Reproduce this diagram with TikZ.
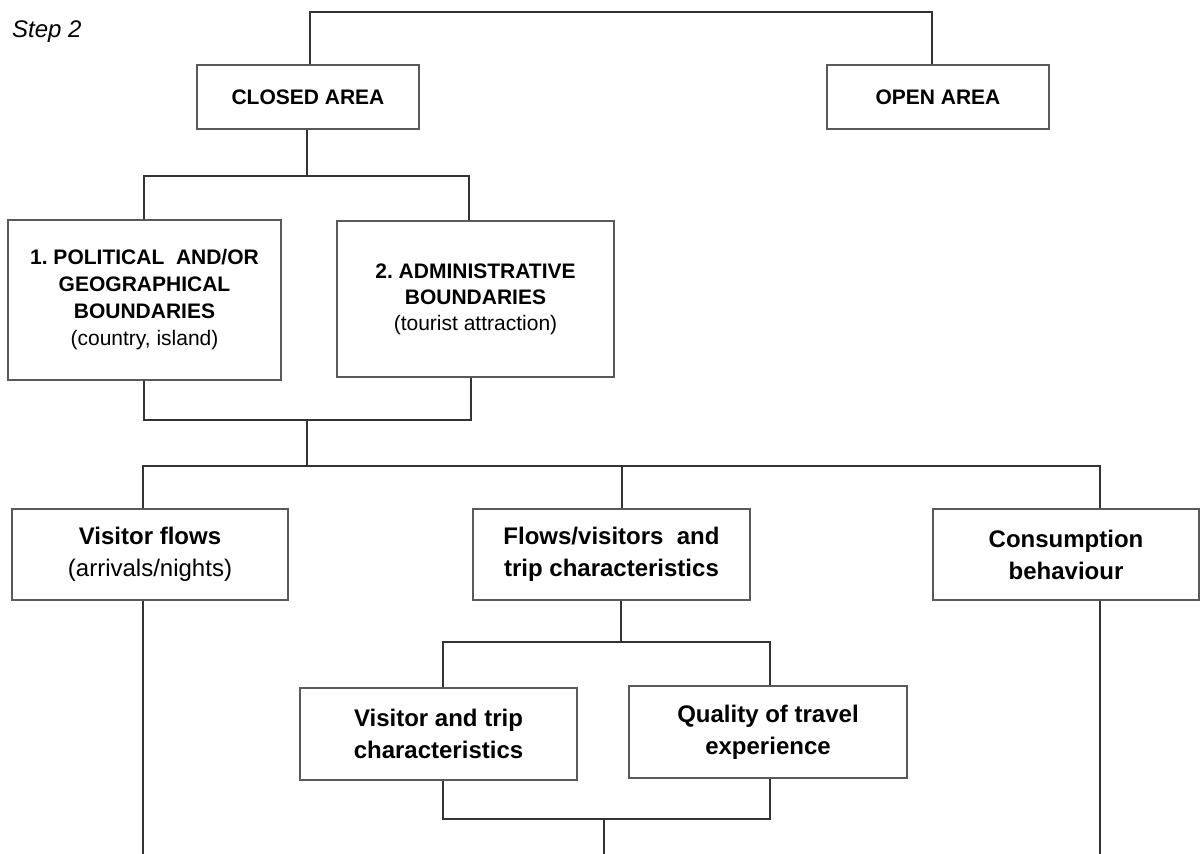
\documentclass[tikz,border=0pt]{standalone}
\usepackage{fontspec}
\setmainfont{Liberation Sans}
\frenchspacing
\begin{document}
\begin{tikzpicture}[x=1pt,y=-1pt,
  box/.style={draw=black!65, line width=1.2pt, inner sep=0pt, align=center, anchor=center},
  link/.style={draw=black!80, line width=1.1pt},
  smalltxt/.style={font=\fontsize{21}{27}\selectfont},
  mediumtxt/.style={font=\fontsize{21}{26}\selectfont},
  bigtxt/.style={font=\fontsize{24}{32}\selectfont}]
\useasboundingbox (0,0) rectangle (1200,854);

% title
\node[anchor=west, inner sep=0pt, font=\fontsize{24}{28}\selectfont\itshape] (title) at (12,32) {Step 2};

% level 1
\node[box, smalltxt, minimum width=222pt, minimum height=64pt] (closed) at (308,97) {\textbf{CLOSED AREA}};
\node[box, smalltxt, minimum width=222pt, minimum height=64pt] (open) at (938,97) {\textbf{OPEN AREA}};

% level 2
\node[box, smalltxt, minimum width=273pt, minimum height=160pt] (pol) at (144.5,300)
  {\textbf{1. POLITICAL~ AND/OR}\\\textbf{GEOGRAPHICAL}\\\textbf{BOUNDARIES}\\(country, island)};
\node[box, mediumtxt, minimum width=277pt, minimum height=156pt] (adm) at (475.5,299)
  {\textbf{2. ADMINISTRATIVE}\\\textbf{BOUNDARIES}\\(tourist attraction)};

% level 3
\node[box, bigtxt, minimum width=276pt, minimum height=91pt] (vflow) at (150,554.5)
  {\textbf{Visitor flows}\\(arrivals/nights)};
\node[box, bigtxt, minimum width=277pt, minimum height=91pt] (flows) at (611.5,554.5)
  {\textbf{Flows/visitors~ and}\\\textbf{trip characteristics}};
\node[box, bigtxt, minimum width=266pt, minimum height=91pt] (cons) at (1066,554.5)
  {\textbf{Consumption}\\\textbf{behaviour}};

% level 4
\node[box, bigtxt, minimum width=277pt, minimum height=92pt] (vtc) at (438.5,734)
  {\textbf{Visitor and trip}\\\textbf{characteristics}};
\node[box, bigtxt, minimum width=278pt, minimum height=92pt] (qual) at (768,732)
  {\textbf{Quality of travel}\\\textbf{experience}};

% junction points
\coordinate (tl) at (310,12);
\coordinate (tr) at (932,12);
\coordinate (ja) at (307,176);
\coordinate (jal) at (144,176);
\coordinate (jar) at (469,176);
\coordinate (jbl) at (144,420);
\coordinate (jbr) at (471,420);
\coordinate (jb) at (307,420);
\coordinate (jc) at (307,466);
\coordinate (jcl) at (143,466);
\coordinate (jcm) at (622,466);
\coordinate (jcr) at (1100,466);
\coordinate (jd) at (621,642);
\coordinate (jdl) at (443,642);
\coordinate (jdr) at (770,642);
\coordinate (jel) at (443,819);
\coordinate (jer) at (770,819);
\coordinate (je) at (604,819);
\coordinate (endl) at (143,854);
\coordinate (endm) at (604,854);
\coordinate (endr) at (1100,854);

% connectors
\draw[link] (closed.north -| tl) -- (tl) -- (tr) -- (tr |- open.north);
\draw[link] (closed.south -| ja) -- (ja);
\draw[link] (jal |- pol.north) -- (jal) -- (jar) -- (jar |- adm.north);
\draw[link] (jbl |- pol.south) -- (jbl) -- (jbr) -- (jbr |- adm.south);
\draw[link] (jb) -- (jc);
\draw[link] (jcl |- vflow.north) -- (jcl) -- (jcr) -- (jcr |- cons.north);
\draw[link] (jcm) -- (jcm |- flows.north);
\draw[link] (flows.south -| jd) -- (jd);
\draw[link] (jdl |- vtc.north) -- (jdl) -- (jdr) -- (jdr |- qual.north);
\draw[link] (jel |- vtc.south) -- (jel) -- (jer) -- (jer |- qual.south);
\draw[link] (je) -- (endm);
\draw[link] (vflow.south -| endl) -- (endl);
\draw[link] (cons.south -| endr) -- (endr);
\end{tikzpicture}
\end{document}
